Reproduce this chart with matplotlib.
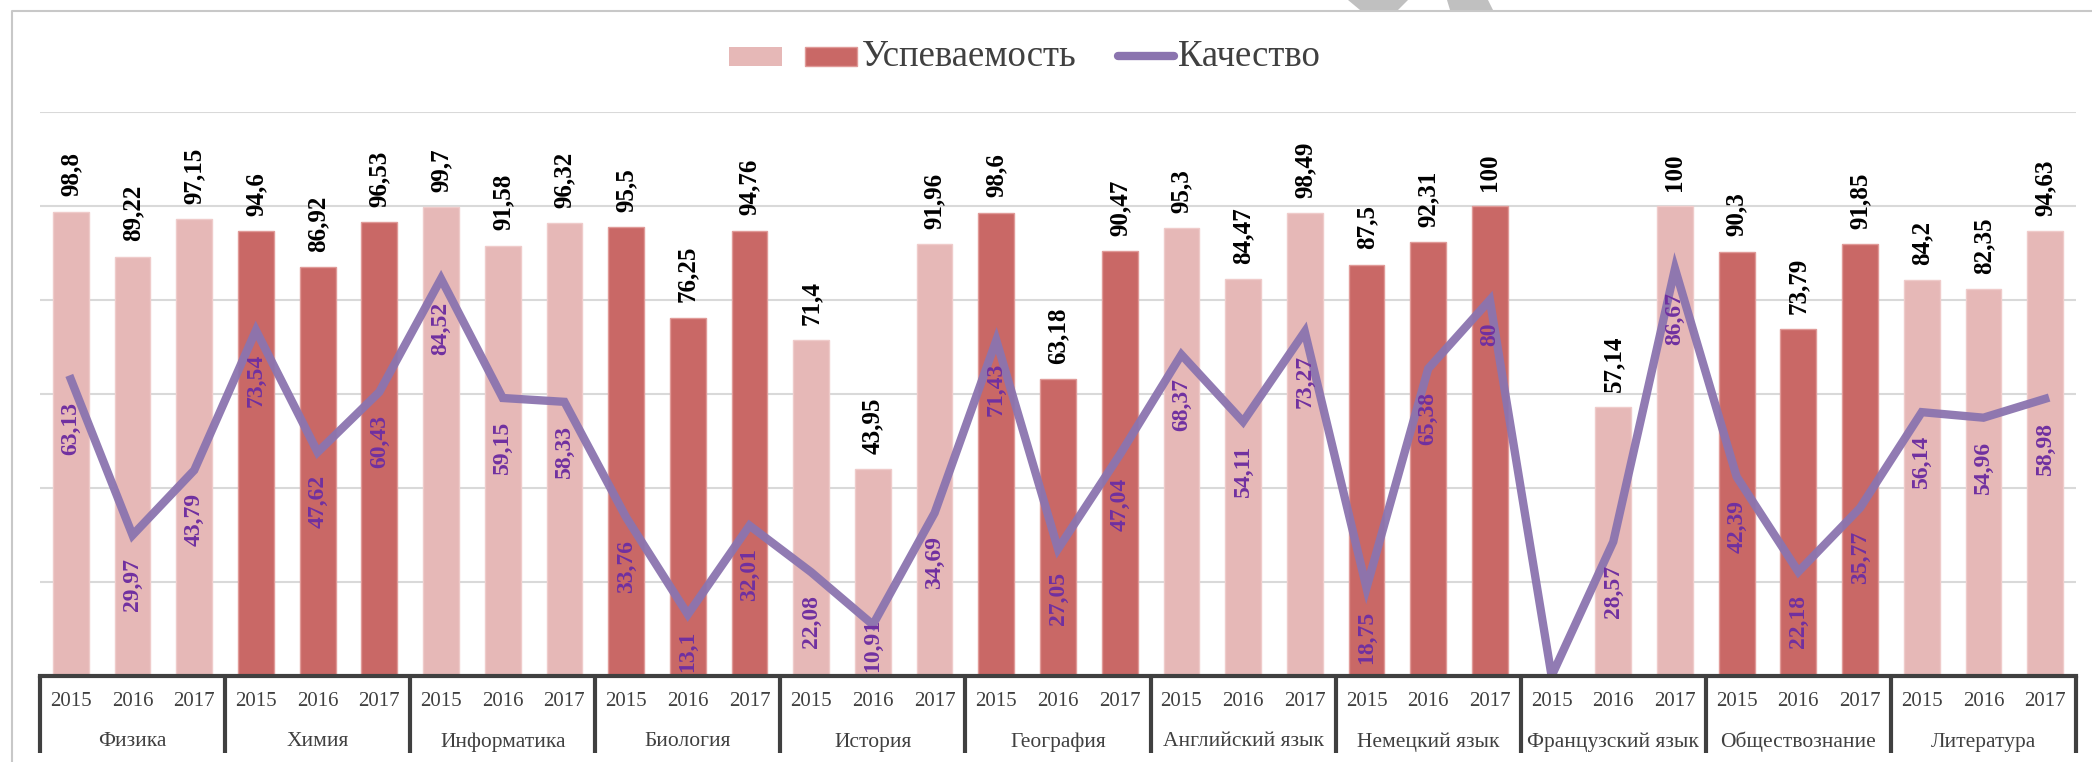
import numpy as np
import matplotlib
matplotlib.use('Agg')
import matplotlib.pyplot as plt
import matplotlib.transforms as mtransforms
from matplotlib.patches import Rectangle, Polygon
from matplotlib.lines import Line2D

# ---------------- data ----------------
subjects = ['Физика', 'Химия', 'Информатика', 'Биология', 'История', 'География',
            'Английский язык', 'Немецкий язык', 'Французский язык',
            'Обществознание', 'Литература']
years = ['2015', '2016', '2017']

uspevaemost = [98.8, 89.22, 97.15,
               94.6, 86.92, 96.53,
               99.7, 91.58, 96.32,
               95.5, 76.25, 94.76,
               71.4, 43.95, 91.96,
               98.6, 63.18, 90.47,
               95.3, 84.47, 98.49,
               87.5, 92.31, 100,
               0, 57.14, 100,
               90.3, 73.79, 91.85,
               84.2, 82.35, 94.63]

kachestvo = [63.13, 29.97, 43.79,
             73.54, 47.62, 60.43,
             84.52, 59.15, 58.33,
             33.76, 13.1, 32.01,
             22.08, 10.91, 34.69,
             71.43, 27.05, 47.04,
             68.37, 54.11, 73.27,
             18.75, 65.38, 80,
             0, 28.57, 86.67,
             42.39, 22.18, 35.77,
             56.14, 54.96, 58.98]

legend_labels = ['Успеваемость', 'Качество']

# ---------------- style ----------------
LIGHT = '#E6B8B7'
DARK = '#C96866'
LINE = '#8B74AF'
PURPLE_TXT = '#7030A0'
AXIS = '#404040'
SERIF = ['Liberation Serif', 'DejaVu Serif']

W, H = 2092, 762
DPI = 100
fig = plt.figure(figsize=(W / DPI, H / DPI), dpi=DPI)
ax = fig.add_axes([40 / W, (H - 676) / H, (2076 - 40) / W, (676 - 112) / H])

n = len(uspevaemost)
x = np.arange(n)
colors = [LIGHT if (i // 3) % 2 == 0 else DARK for i in range(n)]
edges = ['#EFCBCA' if (i // 3) % 2 == 0 else '#E09A98' for i in range(n)]

ax.bar(x, uspevaemost, width=0.58, color=colors, edgecolor=edges, linewidth=1, zorder=2)
ax.plot(x, kachestvo, color=LINE, lw=6, solid_joinstyle='miter', zorder=3, alpha=0.95)

ax.set_xlim(-0.5, n - 0.5)
ax.set_ylim(0, 120)
ax.set_yticks(np.arange(0, 121, 20))
ax.yaxis.grid(True, color='#D9D9D9', lw=1.5)
ax.set_axisbelow(True)
ax.tick_params(axis='y', length=0, labelleft=False)
ax.set_xticks([])
for s in ['left', 'right', 'top']:
    ax.spines[s].set_visible(False)
ax.spines['bottom'].set_color(AXIS)
ax.spines['bottom'].set_linewidth(3)
ax.spines['bottom'].set_zorder(4)


def fmt(v):
    return f'{v:g}'.replace('.', ',')


for xi, v in zip(x, uspevaemost):
    if v == 0:
        continue
    ax.annotate(fmt(v), (xi, v), xytext=(0, 11), textcoords='offset points',
                rotation=90, ha='center', va='bottom', fontsize=18,
                fontweight='bold', family=SERIF, color='black', zorder=5)

q_labels = []
for xi, v in zip(x, kachestvo):
    if v == 0:
        continue
    a = ax.annotate(fmt(v), (xi, v), xytext=(0, -16.5), textcoords='offset points',
                    rotation=90, ha='center', va='top', fontsize=17,
                    fontweight='bold', family=SERIF, color=PURPLE_TXT, zorder=5)
    q_labels.append(a)

# keep quality labels inside the plot area (as the spreadsheet does)
fig.canvas.draw()
renderer = fig.canvas.get_renderer()
ax_bottom_px = ax.get_window_extent(renderer).y0
for a in q_labels:
    bb = a.get_window_extent(renderer)
    limit = ax_bottom_px + 4
    if bb.y0 < limit:
        dx, dy = a.xyann
        a.xyann = (dx, dy + (limit - bb.y0) * 72 / DPI)

# multi-level category axis
trans = mtransforms.blended_transform_factory(ax.transData, ax.transAxes)
ah = 676 - 112
y_year = -(702 - 676) / ah
y_subj = -(742 - 676) / ah
y_sep = -(753 - 676) / ah
for i in range(n):
    ax.text(x[i], y_year, years[i % 3], transform=trans, ha='center', va='center',
            fontsize=15, family=SERIF, color=AXIS)
for k, s in enumerate(subjects):
    ax.text(3 * k + 1, y_subj, s, transform=trans, ha='center', va='center',
            fontsize=15.5, family=SERIF, color=AXIS)
for k in range(len(subjects) + 1):
    xs = 3 * k - 0.5
    ax.plot([xs, xs], [0, y_sep], transform=trans, color=AXIS, lw=3,
            clip_on=False, solid_capstyle='butt', zorder=4)


# legend (manual)
def fx(px):
    return px / W


def fy(py):
    return 1 - py / H


fig.add_artist(Rectangle((fx(729), fy(66)), 53 / W, 19 / H, transform=fig.transFigure,
                         facecolor=LIGHT, edgecolor='none'))
fig.add_artist(Rectangle((fx(805), fy(66)), 52 / W, 19 / H, transform=fig.transFigure,
                         facecolor=DARK, edgecolor='#E09A98', lw=1))
fig.text(fx(862), fy(57), legend_labels[0], ha='left', va='center', fontsize=26.5,
         family=SERIF, color=AXIS)
fig.add_artist(Line2D([fx(1118), fx(1174)], [fy(56), fy(56)], transform=fig.transFigure,
                      color=LINE, lw=6, solid_capstyle='round'))
fig.text(fx(1178), fy(57), legend_labels[1], ha='left', va='center', fontsize=26.5,
         family=SERIF, color=AXIS)

# outer frame & watermark remnants
fig.add_artist(Line2D([fx(12), fx(12), fx(2092)], [fy(762), fy(11), fy(11)],
                      transform=fig.transFigure, color='#C8C8C8', lw=1.5))
for poly in ([(1348, 0), (1408, 0), (1398, 10), (1360, 10)],
             [(1447, 0), (1488, 0), (1493, 10), (1450, 10)]):
    fig.add_artist(Polygon([(fx(a), fy(b)) for a, b in poly], closed=True,
                           transform=fig.transFigure, facecolor='#C0C0C0',
                           edgecolor='none'))

fig.savefig('out.png', dpi=DPI, facecolor='white')
